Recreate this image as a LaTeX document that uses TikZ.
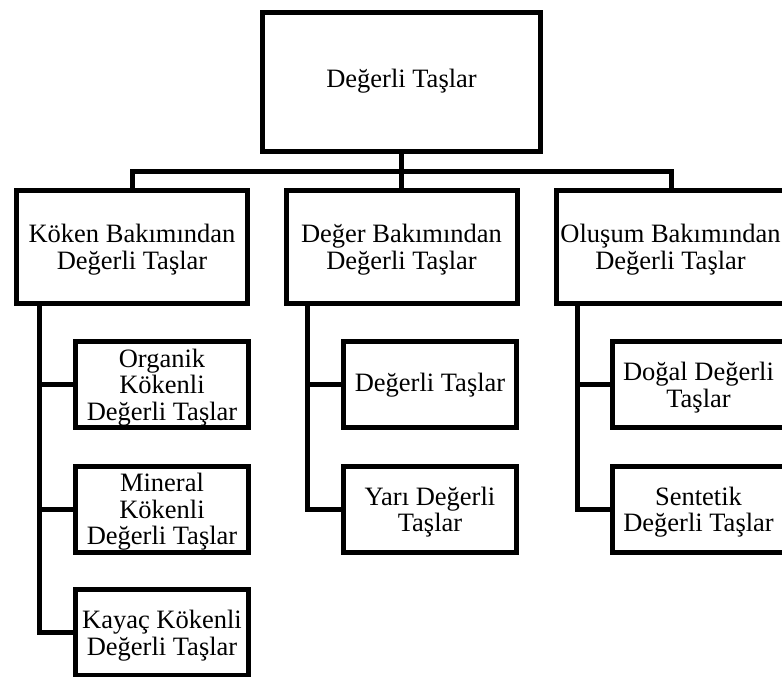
\documentclass[tikz,border=0pt]{standalone}
\usepackage{fontspec}
\setmainfont{Liberation Serif}
\begin{document}
\begin{tikzpicture}[x=1pt,y=-1pt,
  box/.style={draw=black,line width=5pt,inner sep=0pt},
  txt/.style={align=center,inner sep=0pt,font=\fontsize{26.5}{26.5}\selectfont},
  low/.style={txt,yshift=-3pt},
  topbox/.style={box,minimum width=278pt,minimum height=139pt},
  midbox/.style={box,minimum width=231pt,minimum height=113pt},
  subbox/.style={box,minimum width=173pt,minimum height=86pt},
  conn/.style={line width=5pt,line join=miter}]
\useasboundingbox (0,0) rectangle (782,677);
\node[topbox] (top) at (401.5,82) {};
\node[midbox] (b1) at (132,246.5) {};
\node[midbox] (b2) at (401.5,246.5) {};
\node[midbox] (b3) at (671.5,246.5) {};
\node[subbox] (s1) at (162,384.5) {};
\node[subbox] (s2) at (162,509) {};
\node[subbox] (s3) at (162,632.5) {};
\node[subbox] (m1) at (430,384.5) {};
\node[subbox] (m2) at (430,509) {};
\node[subbox] (r1) at (698.5,384.5) {};
\node[subbox] (r2) at (698.5,509) {};
\node[txt] (topt) at ([yshift=1pt]top.center) {Değerli Taşlar};
\node[low] (b1t) at (b1.center) {Köken Bakımından\\Değerli Taşlar};
\node[low] (b2t) at (b2.center) {Değer Bakımından\\Değerli Taşlar};
\node[low] (b3t) at ([xshift=-1pt]b3.center) {Oluşum Bakımından\\Değerli Taşlar};
\node[low] (s1t) at (s1.center) {Organik\\Kökenli\\Değerli Taşlar};
\node[low] (s2t) at (s2.center) {Mineral\\Kökenli\\Değerli Taşlar};
\node[low] (s3t) at (s3.center) {Kayaç Kökenli\\Değerli Taşlar};
\node[txt] (m1t) at ([yshift=-1pt]m1.center) {Değerli Taşlar};
\node[low] (m2t) at (m2.center) {Yarı Değerli\\Taşlar};
\node[low] (r1t) at (r1.center) {Doğal Değerli\\Taşlar};
\node[low] (r2t) at (r2.center) {Sentetik\\Değerli Taşlar};
\coordinate (bus) at (401.5,171);
\coordinate (lv) at (39.5,0);
\coordinate (mv) at (307,0);
\coordinate (rv) at (577,0);
\draw[conn] (top.south) -- (bus);
\draw[conn] (b1.north) |- (bus);
\draw[conn] (b3.north) |- (bus);
\draw[conn] (bus) -- (b2.north);
\draw[conn] (b1.south -| lv) |- (s3.west);
\draw[conn] (s1.west -| lv) -- (s1.west);
\draw[conn] (s2.west -| lv) -- (s2.west);
\draw[conn] (b2.south -| mv) |- (m2.west);
\draw[conn] (m1.west -| mv) -- (m1.west);
\draw[conn] (b3.south -| rv) |- (r2.west);
\draw[conn] (r1.west -| rv) -- (r1.west);
\end{tikzpicture}
\end{document}
